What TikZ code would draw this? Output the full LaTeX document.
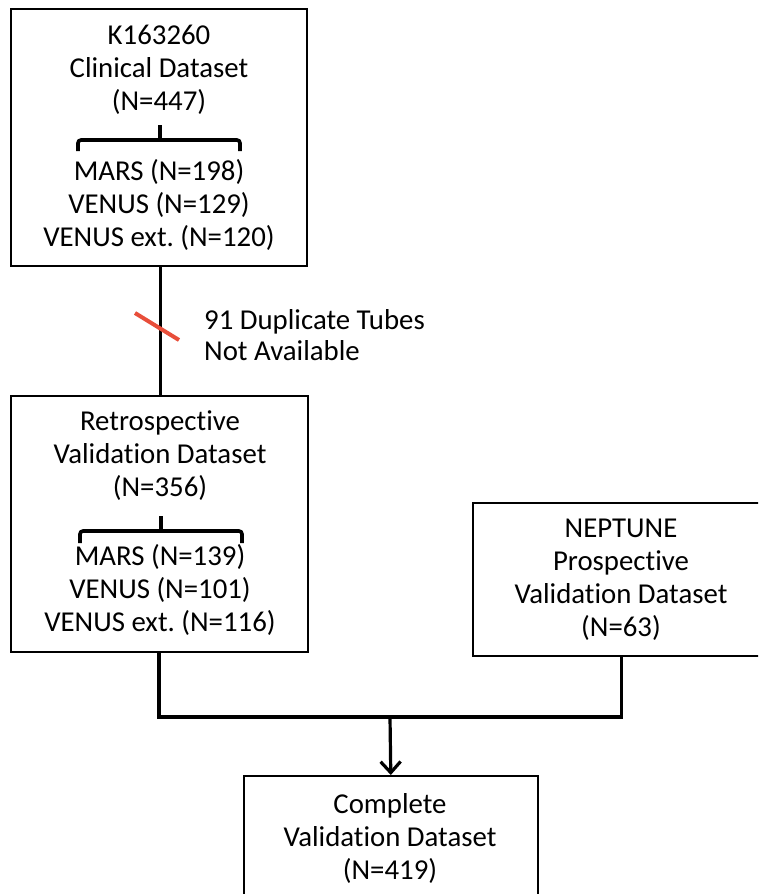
\documentclass[tikz,border=0pt]{standalone}
\usepackage{fontspec}
\setmainfont[Ligatures={NoCommon}]{Carlito}
\usetikzlibrary{arrows.meta}
\definecolor{slashred}{RGB}{232,78,58}
\frenchspacing
\begin{document}
\begin{tikzpicture}[x=1pt,y=1pt,
  box/.style={draw=black, line width=1.6pt, inner sep=0pt, anchor=north west},
  txt/.style={align=center, inner sep=0pt, font=\fontsize{28.8}{33}\selectfont},
  conn/.style={draw=black, line width=3.2pt},
  bracket/.style={draw=black, line width=3.6pt, rounded corners=3pt},
  slash/.style={draw=slashred, line width=4pt}]
\useasboundingbox (0,0) rectangle (758,-894);
\clip (0,0) rectangle (758,-894);
% boxes
\node[box, minimum width=296pt, minimum height=257pt] (k) at (10,-8) {};
\node[box, minimum width=297pt, minimum height=256pt] (r) at (10,-395) {};
\node[box, minimum width=298pt, minimum height=153pt] (n) at (472,-502) {};
\node[box, minimum width=294pt, minimum height=140pt] (c) at (243,-775) {};
% texts
\node[txt] (kt1) at (159,-70) {K163260\\Clinical Dataset\\(N=447)};
\node[txt] (kt2) at (159,-205) {MARS (N=198)\\VENUS (N=129)\\VENUS ext. (N=120)};
\node[txt] (rt1) at (160,-456) {Retrospective\\Validation Dataset\\(N=356)};
\node[txt] (rt2) at (160,-590) {MARS (N=139)\\VENUS (N=101)\\VENUS ext. (N=116)};
\node[txt] (nt) at (621,-580) {NEPTUNE\\Prospective\\Validation Dataset\\(N=63)};
\node[txt] (ct) at (390,-838) {Complete\\Validation Dataset\\(N=419)};
\node[txt, align=left, anchor=west, font=\fontsize{28.8}{31}\selectfont] (lab) at (204,-335) {91 Duplicate Tubes\\Not Available};
% brackets
\draw[bracket] (78,-151) -- (78,-140) -- (240,-140) -- (240,-151);
\draw[bracket, rounded corners=0pt] (160,-140) -- (160,-125);
\draw[bracket] (80,-543) -- (80,-531) -- (242,-531) -- (242,-543);
\draw[bracket, rounded corners=0pt] (161,-531) -- (161,-516);
% connectors
\coordinate (km) at ([xshift=2pt]k.south);
\draw[conn] (km) -- (km |- r.north);
\coordinate (rs) at (159,-651);
\coordinate (ns) at (n.south);
\coordinate (j) at (390,-717);
\draw[conn] (rs) -- (rs |- j) -- (ns |- j) -- (ns);
\draw[conn, -{Straight Barb[length=11pt,width=20pt]}] (j) -- (c.north);
% red slash
\draw[slash] (135,-313) -- (179,-340);
\end{tikzpicture}
\end{document}
